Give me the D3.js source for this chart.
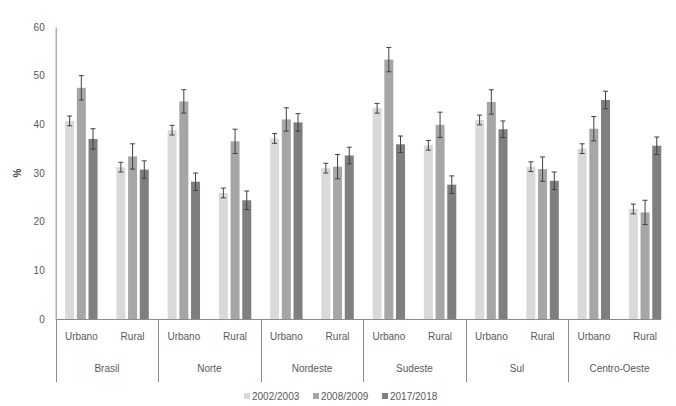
<!DOCTYPE html>
<html>
<head>
<meta charset="utf-8">
<script src="https://cdn.jsdelivr.net/npm/d3@7"></script>
<style>
  html, body { margin: 0; padding: 0; background: #fff; }
  svg text { font-family: "Liberation Sans", Arial, sans-serif; }
</style>
</head>
<body>
<svg id="chart" width="676" height="406"></svg>
<script>
const regions = ["Brasil", "Norte", "Nordeste", "Sudeste", "Sul", "Centro-Oeste"];
const areas = ["Urbano", "Rural"];
const series = ["2002/2003", "2008/2009", "2017/2018"];
const yTicks = [0, 10, 20, 30, 40, 50, 60];

// values ordered: region x area (Urbano, Rural)
const values2002 = [40.7, 31.2, 38.8, 25.9, 37.1, 31.0, 43.3, 35.7, 40.9, 31.3, 35.0, 22.6];
const values2008 = [47.5, 33.4, 44.7, 36.5, 41.0, 31.3, 53.3, 39.9, 44.6, 30.8, 39.1, 21.9];
const values2017 = [37.0, 30.7, 28.2, 24.4, 40.4, 33.6, 35.9, 27.6, 39.0, 28.4, 45.0, 35.6];
const errors2002 = [1.0, 1.0, 1.0, 1.0, 1.0, 1.0, 1.0, 1.0, 1.0, 1.0, 1.0, 1.0];
const errors2008 = [2.5, 2.6, 2.4, 2.5, 2.4, 2.5, 2.5, 2.6, 2.5, 2.5, 2.5, 2.5];
const errors2017 = [2.1, 1.8, 1.8, 1.9, 1.8, 1.7, 1.7, 1.8, 1.7, 1.8, 1.8, 1.8];

const colors = ["#d9d9d9", "#a6a6a6", "#7f7f7f"];
const allValues = [values2002, values2008, values2017];
const allErrors = [errors2002, errors2008, errors2017];

const svg = d3.select("#chart");
const mLeft = 55.7, mRight = 670.7, mTop = 27, mBottom = 319;

const y = d3.scaleLinear().domain([0, 60]).range([mBottom, mTop]);
const x0 = d3.scaleBand().domain(regions).range([mLeft, mRight]).padding(0);
const x1 = d3.scaleBand().domain(areas).range([0, x0.bandwidth()]).padding(0);
const x2 = d3.scaleBand().domain(series).range([0, x1.bandwidth()]).paddingInner(0.23).paddingOuter(0.805);

// data rows
const rows = [];
regions.forEach((r, ri) => {
  areas.forEach((a, ai) => {
    const idx = ri * areas.length + ai;
    series.forEach((s, si) => {
      rows.push({ region: r, area: a, series: s, si: si,
        value: allValues[si][idx], err: allErrors[si][idx] });
    });
  });
});

const xPos = d => x0(d.region) + x1(d.area) + x2(d.series);

// Y axis
const yAxis = d3.axisLeft(y).tickValues(yTicks).tickSize(0).tickPadding(11);
const gy = svg.append("g").attr("transform", `translate(${mLeft},0)`).call(yAxis);
gy.select(".domain").attr("stroke", "#8c8c8c");
gy.selectAll("text").attr("fill", "#595959").style("font-size", "10px");

// Bars
svg.append("g").selectAll("rect").data(rows).join("rect")
  .attr("x", d => xPos(d))
  .attr("y", d => y(d.value))
  .attr("width", x2.bandwidth())
  .attr("height", d => y(0) - y(d.value))
  .attr("fill", d => colors[d.si]);

// Error bars
const eg = svg.append("g").attr("stroke", "#404040").attr("stroke-width", 1);
rows.forEach(d => {
  const cx = xPos(d) + x2.bandwidth() / 2;
  const y1 = y(d.value + d.err), y2 = y(d.value - d.err);
  eg.append("line").attr("x1", cx).attr("x2", cx).attr("y1", y1).attr("y2", y2);
  eg.append("line").attr("x1", cx - 2.5).attr("x2", cx + 2.5).attr("y1", y1).attr("y2", y1);
  eg.append("line").attr("x1", cx - 2.5).attr("x2", cx + 2.5).attr("y1", y2).attr("y2", y2);
});

// X axis line
svg.append("line").attr("x1", mLeft).attr("x2", 661).attr("y1", mBottom + 0.5).attr("y2", mBottom + 0.5)
  .attr("stroke", "#8c8c8c");

// Group separators
svg.append("g").selectAll("line").data(regions).join("line")
  .attr("x1", d => Math.round(x0(d)) + 0.5).attr("x2", d => Math.round(x0(d)) + 0.5)
  .attr("y1", mBottom).attr("y2", 382)
  .attr("stroke", "#8c8c8c");

// Area labels
const areaLabels = [];
regions.forEach(r => areas.forEach(a => areaLabels.push({ r, a })));
svg.append("g").selectAll("text").data(areaLabels).join("text")
  .attr("x", d => x0(d.r) + x1(d.a) + x1.bandwidth() / 2)
  .attr("y", 340)
  .attr("text-anchor", "middle")
  .attr("fill", "#595959")
  .style("font-size", "10px")
  .text(d => d.a);

// Region labels
svg.append("g").selectAll("text").data(regions).join("text")
  .attr("x", d => x0(d) + x0.bandwidth() / 2)
  .attr("y", 372)
  .attr("text-anchor", "middle")
  .attr("fill", "#595959")
  .style("font-size", "10px")
  .text(d => d);

// Y label
svg.append("text")
  .attr("transform", "translate(21,173) rotate(-90)")
  .attr("text-anchor", "middle")
  .attr("fill", "#404040")
  .style("font-size", "10px")
  .style("font-weight", "bold")
  .text("%");

// Legend
const legendX = [244, 313, 382];
const lg = svg.append("g");
series.forEach((s, i) => {
  lg.append("rect").attr("x", legendX[i]).attr("y", 393).attr("width", 6).attr("height", 6).attr("fill", colors[i]);
  lg.append("text").attr("x", legendX[i] + 8).attr("y", 399.5)
    .attr("fill", "#595959").style("font-size", "10px").text(s);
});
</script>
</body>
</html>
